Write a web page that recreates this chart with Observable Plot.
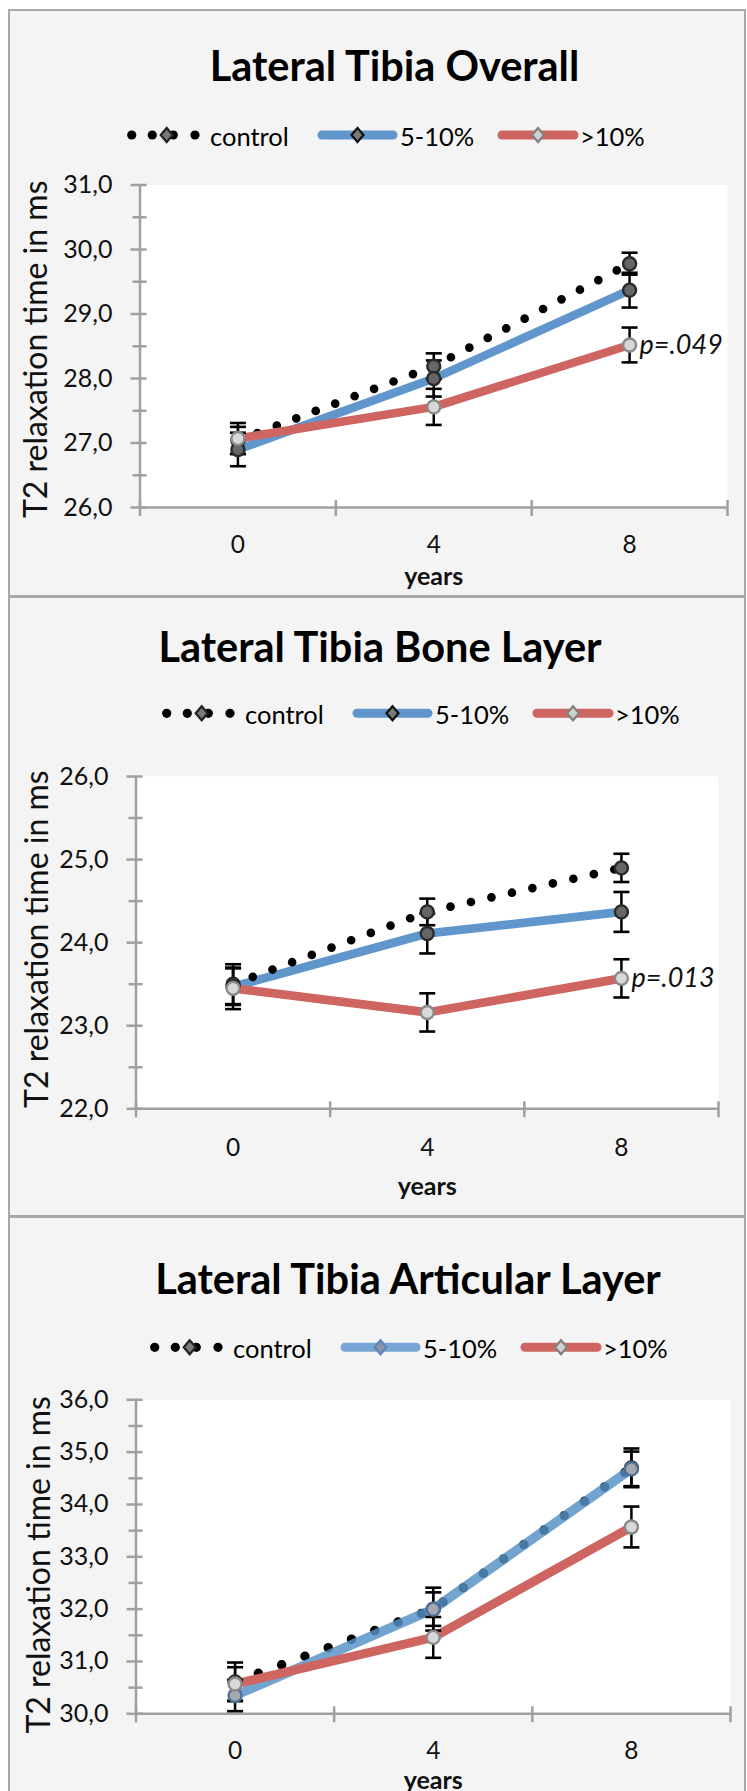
<!DOCTYPE html>
<html>
<head>
<meta charset="utf-8">
<script src="https://cdn.jsdelivr.net/npm/d3@7"></script>
<script src="https://cdn.jsdelivr.net/npm/@observablehq/plot@0.6"></script>
<style>
html, body { margin: 0; padding: 0; width: 747px; height: 1791px; overflow: hidden; background: #ffffff; font-family: Lato, "Open Sans", sans-serif; }
.panel { position: absolute; left: 8px; width: 738px; background: #f4f4f4; border: 2.5px solid #a8a8a8; box-sizing: border-box; }
.plotwrap { position: absolute; left: 0; width: 747px; }
</style>
</head>
<body>
<script>
// ---------------- data ----------------
const years = [0, 4, 8];
const seriesNames = ["control", "5-10%", ">10%"];
const titles = ["Lateral Tibia Overall", "Lateral Tibia Bone Layer", "Lateral Tibia Articular Layer"];
const yAxisLabel = "T2 relaxation time in ms";
const xAxisLabel = "years";
const pLabels = ["p=.049", "p=.013", null];
const yTickValues = [
  [26, 27, 28, 29, 30, 31],
  [22, 23, 24, 25, 26],
  [30, 31, 32, 33, 34, 35, 36]
];

// Lateral Tibia Overall
const overallControl = [27.04, 28.19, 29.78];
const overallControlErr = [0.21, 0.20, 0.17];
const overallMid = [26.90, 28.00, 29.37];
const overallMidErr = [0.26, 0.28, 0.27];
const overallHigh = [27.07, 27.56, 28.52];
const overallHighErr = [0.24, 0.28, 0.27];

// Lateral Tibia Bone Layer
const boneControl = [23.50, 24.37, 24.90];
const boneControlErr = [0.24, 0.16, 0.17];
const boneMid = [23.47, 24.11, 24.37];
const boneMidErr = [0.22, 0.24, 0.24];
const boneHigh = [23.45, 23.16, 23.57];
const boneHighErr = [0.25, 0.23, 0.23];

// Lateral Tibia Articular Layer
const artControl = [30.61, 32.00, 34.70];
const artControlErr = [0.37, 0.41, 0.37];
const artMid = [30.35, 32.00, 34.68];
const artMidErr = [0.30, 0.32, 0.33];
const artHigh = [30.57, 31.46, 33.57];
const artHighErr = [0.32, 0.39, 0.39];

// ---------------- styles / layout ----------------
const BLUE = "#6096cb", RED = "#cf6560", AXIS = "#a0a0a0";
const FONT = "Lato, 'Open Sans', sans-serif";

const panels = [
  { values: [overallControl, overallMid, overallHigh], errs: [overallControlErr, overallMidErr, overallHighErr],
    top: 9, bottom: 597, svgTop: 150, svgH: 450, mt: 34.5, mb: 93, ml: 139.5, mr: 20,
    ylabX: 36.5, ylabDy: 3, xPad: 28, yearsDy: 60,
    titleX: 394.5, titleY: 81, legX: 127, legY: 135,
    dotW: 8.7, dotGap: 20.8, lineW: 8.5, blueOpacity: 1, ctrlFirst: false },
  { values: [boneControl, boneMid, boneHigh], errs: [boneControlErr, boneMidErr, boneHighErr],
    top: 596, bottom: 1217, svgTop: 740, svgH: 480, mt: 36, mb: 111.7, ml: 135.5, mr: 29,
    ylabX: 37, ylabDy: -3.5, xPad: 29.5, yearsDy: 68.5,
    titleX: 380, titleY: 661.7, legX: 162, legY: 713.3,
    dotW: 8.7, dotGap: 21, lineW: 8.7, blueOpacity: 1, ctrlFirst: false },
  { values: [artControl, artMid, artHigh], errs: [artControlErr, artMidErr, artHighErr],
    top: 1216, bottom: 1810, svgTop: 1365, svgH: 440, mt: 34.3, mb: 91.7, ml: 135.5, mr: 17,
    ylabX: 39, ylabDy: 8, xPad: 27.5, yearsDy: 57,
    titleX: 408, titleY: 1294, legX: 150, legY: 1347.3,
    dotW: 9.5, dotGap: 24.8, lineW: 9.5, blueOpacity: 0.83, ctrlFirst: true }
];

const capSymbol = {
  draw(ctx, size) { const r = Math.sqrt(size / Math.PI); ctx.moveTo(-r, 0); ctx.lineTo(r, 0); }
};

const fmt = d => d.toFixed(1).replace(".", ",");
const step = years[1] - years[0];
const xBounds = [years[0] - step / 2, ...years.map(y => y + step / 2)];
const xDomain = [xBounds[0], xBounds[xBounds.length - 1]];

panels.forEach((p, pi) => {
  const box = document.createElement("div");
  box.className = "panel";
  box.style.top = p.top + "px";
  box.style.height = (p.bottom - p.top) + "px";
  document.body.appendChild(box);
});

panels.forEach((p, pi) => {
  const rows = [];
  seriesNames.forEach((s, si) => years.forEach((yr, i) =>
    rows.push({ series: s, year: yr, value: p.values[si][i], err: p.errs[si][i] })));
  const ctrl = rows.filter(d => d.series === seriesNames[0]);
  const mid = rows.filter(d => d.series === seriesNames[1]);
  const high = rows.filter(d => d.series === seriesNames[2]);
  const caps = rows.flatMap(d => [{ year: d.year, v: d.value - d.err }, { year: d.year, v: d.value + d.err }]);
  const yt = yTickValues[pi];
  const yDomain = [yt[0], yt[yt.length - 1]];
  const minor = yt.slice(0, -1).map(v => v + 0.5);

  const ctrlLine = Plot.line(ctrl, { x: "year", y: "value", stroke: "#000", strokeWidth: p.dotW,
    strokeDasharray: `0 ${p.dotGap}`, strokeLinecap: "round" });
  const midLine = Plot.line(mid, { x: "year", y: "value", stroke: pi === 2 ? "#5791c7" : BLUE,
    strokeOpacity: p.blueOpacity, strokeWidth: p.lineW, strokeLinejoin: "round" });
  const highLine = Plot.line(high, { x: "year", y: "value", stroke: RED, strokeWidth: pi === 2 ? 9 : p.lineW,
    strokeLinejoin: "round" });
  const lineMarks = p.ctrlFirst ? [ctrlLine, midLine, highLine] : [midLine, ctrlLine, highLine];

  const marks = [
    Plot.frame({ fill: "white", stroke: "none" }),
    // axes lines & crossing ticks
    Plot.ruleY(minor, { x1: xDomain[0], x2: xDomain[0], insetLeft: -7, insetRight: -7, stroke: AXIS, strokeWidth: 2.5 }),
    Plot.ruleY(yt, { x1: xDomain[0], x2: xDomain[0], insetLeft: -9, insetRight: -7, stroke: AXIS, strokeWidth: 2.5 }),
    Plot.ruleX(xBounds, { y1: yDomain[0], y2: yDomain[0], insetTop: -7, insetBottom: -9, stroke: AXIS, strokeWidth: 2.5 }),
    Plot.ruleX([xDomain[0]], { stroke: AXIS, strokeWidth: 2.5 }),
    Plot.ruleY([yDomain[0]], { stroke: AXIS, strokeWidth: 2.5 }),
    ...lineMarks,
    // error bars
    Plot.ruleX(rows, { x: "year", y1: d => d.value - d.err, y2: d => d.value + d.err, stroke: "#000", strokeWidth: 2.5 }),
    Plot.dot(caps, { x: "year", y: "v", symbol: capSymbol, r: 8, fill: "none", stroke: "#000", strokeWidth: 2.6 }),
    // markers
    Plot.dot(ctrl, { x: "year", y: "value", r: 6.5, fill: "#666", stroke: "#2a2a2a", strokeWidth: 2.4, ariaLabel: "marker" }),
    Plot.dot(mid, { x: "year", y: "value", r: 6.5, fill: pi === 2 ? "#a4a8ae" : "#666", stroke: pi === 2 ? "#4f6f94" : "#2a2a2a", strokeWidth: 2.4, ariaLabel: "marker" }),
    Plot.dot(high, { x: "year", y: "value", r: 6.5, fill: "#d8d8d8", stroke: "#8a8a8a", strokeWidth: 2.4, ariaLabel: "marker" }),
    // axes text
    Plot.axisY(yt, { tickSize: 0, tickPadding: 27.5, tickFormat: fmt, fontSize: 25, color: "#111", label: null }),
    Plot.axisX(years, { tickSize: 0, tickPadding: p.xPad, tickFormat: d => String(d), fontSize: 24.5, color: "#111", label: null }),
    Plot.text([yAxisLabel], { text: d => d, frameAnchor: "left", rotate: -90, dx: p.ylabX - p.ml, dy: p.ylabDy,
      fontSize: 32, textAnchor: "middle", lineAnchor: "middle", fill: "#111" }),
    Plot.text([xAxisLabel], { text: d => d, frameAnchor: "bottom", dy: p.yearsDy, fontSize: 25, fontWeight: "bold",
      textAnchor: "middle", lineAnchor: "top", fill: "#111" })
  ];
  if (pLabels[pi]) {
    marks.push(Plot.text([{ year: years[2], value: high[2].value, label: pLabels[pi] }],
      { x: "year", y: "value", text: "label", dx: 10, textAnchor: "start", lineAnchor: "middle",
        fontSize: 27, fontStyle: "italic", fill: "#111" }));
  }

  const svg = Plot.plot({
    width: 747, height: p.svgH,
    marginTop: p.mt, marginBottom: p.mb, marginLeft: p.ml, marginRight: p.mr,
    x: { type: "linear", domain: xDomain, axis: null },
    y: { type: "linear", domain: yDomain, axis: null },
    style: { background: "transparent", fontFamily: FONT, overflow: "visible" },
    marks
  });
  d3.select(svg).selectAll('g[aria-label="marker"]').style("filter", "blur(0.8px)");
  const wrap = document.createElement("div");
  wrap.className = "plotwrap";
  wrap.style.top = p.svgTop + "px";
  wrap.appendChild(svg);
  document.body.appendChild(wrap);
});

// ---------------- titles and legends ----------------
const overlay = d3.select("body").append("svg")
  .attr("width", 747).attr("height", 1791)
  .style("position", "absolute").style("left", "0px").style("top", "0px")
  .style("pointer-events", "none").style("font-family", FONT);

function diamond(g, cx, fill, stroke) {
  g.append("path").attr("d", `M${cx},-7 L${cx + 6},0 L${cx},7 L${cx - 6},0 Z`)
    .attr("fill", fill).attr("stroke", stroke).attr("stroke-width", 2.2).attr("stroke-linejoin", "miter");
}

panels.forEach((p, pi) => {
  overlay.append("text").attr("x", p.titleX).attr("y", p.titleY).attr("text-anchor", "middle")
    .attr("font-weight", "bold").attr("font-size", 41.5).attr("fill", "#000").text(titles[pi]);
  const g = overlay.append("g").attr("transform", `translate(${p.legX},${p.legY})`);
  [4.7, 25.3, 46.3, 68].forEach(x => g.append("circle").attr("cx", x).attr("cy", 0).attr("r", 4.6).attr("fill", "#000"));
  diamond(g, 39.7, "#7a7a7a", "#222");
  g.append("text").attr("x", 83).attr("y", 11).attr("font-size", 25.5).attr("fill", "#000").text(seriesNames[0]);
  g.append("line").attr("x1", 195).attr("x2", 266).attr("y1", 0).attr("y2", 0)
    .attr("stroke", pi === 2 ? "#77a6d4" : BLUE).attr("stroke-width", 9).attr("stroke-linecap", "round");
  if (pi === 2) diamond(g, 230.5, "#8a96a8", "#5a86bb"); else diamond(g, 230.5, "#7a7a7a", "#111");
  g.append("text").attr("x", 273).attr("y", 11).attr("font-size", 25.5).attr("fill", "#000").text(seriesNames[1]);
  g.append("line").attr("x1", 375).attr("x2", 447).attr("y1", 0).attr("y2", 0)
    .attr("stroke", RED).attr("stroke-width", 9).attr("stroke-linecap", "round");
  diamond(g, 411, "#d0d0d0", "#808080");
  g.append("text").attr("x", 453).attr("y", 11).attr("font-size", 25.5).attr("fill", "#000").text(seriesNames[2]);
});
</script>
</body>
</html>
